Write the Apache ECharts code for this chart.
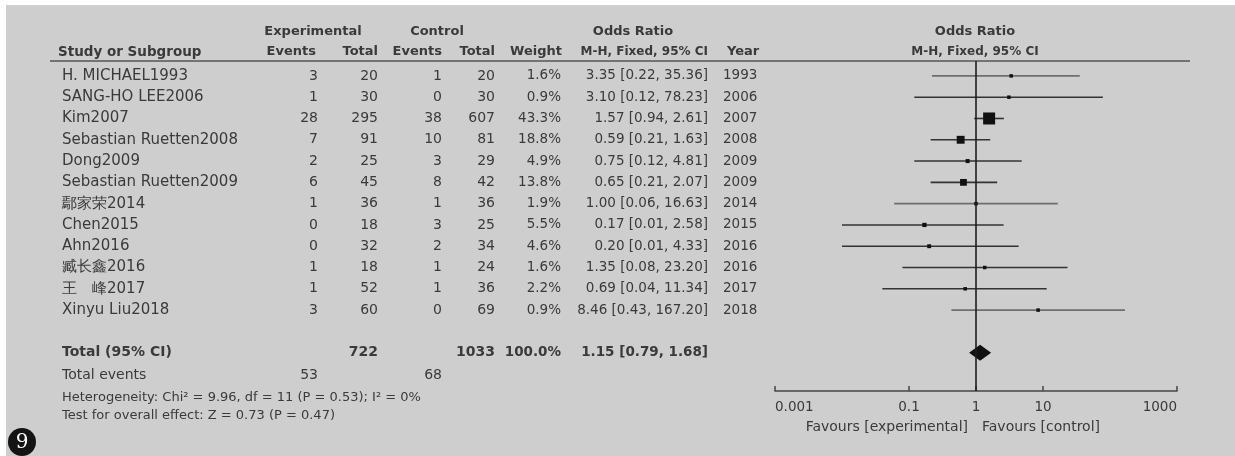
<!DOCTYPE html>
<html><head><meta charset="utf-8">
<script src="https://cdn.jsdelivr.net/npm/echarts@6/dist/echarts.min.js"></script>
<style>html,body{margin:0;padding:0;background:#fff}#c{width:1235px;height:456px}</style>
</head><body><div id="c"></div>
<script>
// ---- data ----
const studies = ['H. MICHAEL1993','SANG-HO LEE2006','Kim2007','Sebastian Ruetten2008','Dong2009','Sebastian Ruetten2009','鄢家荣2014','Chen2015','Ahn2016','臧长鑫2016','王　峰2017','Xinyu Liu2018'];
const expEvents = [3,1,28,7,2,6,1,0,0,1,1,3];
const expTotal = [20,30,295,91,25,45,36,18,32,18,52,60];
const ctrlEvents = [1,0,38,10,3,8,1,3,2,1,1,0];
const ctrlTotal = [20,30,607,81,29,42,36,25,34,24,36,69];
const weights = [1.6,0.9,43.3,18.8,4.9,13.8,1.9,5.5,4.6,1.6,2.2,0.9];
const oddsRatio = [3.35,3.10,1.57,0.59,0.75,0.65,1.00,0.17,0.20,1.35,0.69,8.46];
const ciLower = [0.22,0.12,0.94,0.21,0.12,0.21,0.06,0.01,0.01,0.08,0.04,0.43];
const ciUpper = [35.36,78.23,2.61,1.63,4.81,2.07,16.63,2.58,4.33,23.20,11.34,167.20];
const years = [1993,2006,2007,2008,2009,2009,2014,2015,2016,2016,2017,2018];
const totalExp = 722, totalCtrl = 1033, totalWeight = '100.0%';
const totalOR = 1.15, totalLower = 0.79, totalUpper = 1.68;
const totalExpEvents = 53, totalCtrlEvents = 68;
const heterogeneityText = 'Heterogeneity: Chi² = 9.96, df = 11 (P = 0.53); I² = 0%';
const overallText = 'Test for overall effect: Z = 0.73 (P = 0.47)';
const tickValues = [0.001, 0.1, 1, 10, 1000];
const favourLeft = 'Favours [experimental]', favourRight = 'Favours [control]';

// ---- layout / style ----
const FONT = '"DejaVu Sans"';
const TXT = '#3a3a3a';
const lightRows = [0, 6, 11];
const TOTAL_ROW = 13;
const fmt2 = v => v.toFixed(2);

function T(x, y, text, align, size, bold, extra) {
  return Object.assign({ type: 'text', style: { x, y, text: String(text), textAlign: align, textVerticalAlign: 'middle',
    font: (bold ? 'bold ' : '') + size + 'px ' + FONT, fill: TXT } }, extra || {});
}

const chart = echarts.init(document.getElementById('c'));

const tableData = studies.map((s, i) => [0, i]);
const ciData = studies.map((s, i) => [ciLower[i], ciUpper[i], i, oddsRatio[i], weights[i]]);

chart.setOption({
  backgroundColor: '#cecece',
  animation: false,
  grid: { left: 775, right: 58, top: 61, bottom: 456 - 391 },
  xAxis: {
    type: 'log', logBase: 10, min: 0.001, max: 1000,
    axisLine: { onZero: false, lineStyle: { color: '#454545', width: 1.5 } },
    axisTick: { inside: true, length: 5, customValues: tickValues, lineStyle: { color: '#454545', width: 1.5 } },
    axisLabel: { customValues: tickValues, formatter: v => String(v), color: TXT, fontSize: 13.5, fontFamily: 'DejaVu Sans', margin: 9,
      alignMinLabel: 'left', alignMaxLabel: 'right' },
    splitLine: { show: false }
  },
  yAxis: { type: 'value', inverse: true, min: -0.7, max: 14.8, show: false },
  graphic: [
    { type: 'rect', shape: { x: 0, y: 0, width: 1235, height: 5 }, style: { fill: '#fff' } },
    { type: 'rect', shape: { x: 0, y: 0, width: 6, height: 456 }, style: { fill: '#fff' } },
    { type: 'line', shape: { x1: 50, y1: 61, x2: 1190, y2: 61 }, style: { stroke: '#555', lineWidth: 1.5 } },
    T(313, 32, 'Experimental', 'center', 13, true),
    T(437, 32, 'Control', 'center', 13, true),
    T(633, 32, 'Odds Ratio', 'center', 13, true),
    T(975, 32, 'Odds Ratio', 'center', 13, true),
    T(58, 52, 'Study or Subgroup', 'left', 13.5, true),
    T(316, 52, 'Events', 'right', 13, true),
    T(378, 52, 'Total', 'right', 13, true),
    T(442, 52, 'Events', 'right', 13, true),
    T(495, 52, 'Total', 'right', 13, true),
    T(562, 52, 'Weight', 'right', 13, true),
    T(708, 52, 'M-H, Fixed, 95% CI', 'right', 12, true),
    T(727, 52, 'Year', 'left', 13, true),
    T(975, 52, 'M-H, Fixed, 95% CI', 'center', 12, true),
    T(968, 427, favourLeft, 'right', 14, false),
    T(982, 427, favourRight, 'left', 14, false),
    { type: 'circle', shape: { cx: 22, cy: 442, r: 14 }, style: { fill: '#141414' } },
    { type: 'text', style: { x: 22, y: 443, text: '9', textAlign: 'center', textVerticalAlign: 'middle', font: '20px "DejaVu Serif"', fill: '#fff' } }
  ],
  series: [
    {
      type: 'custom', name: 'table', data: tableData, silent: true,
      renderItem: (params, api) => {
        const i = api.value(1);
        const y = api.coord([1, i])[1];
        return { type: 'group', children: [
          T(62, y, studies[i], 'left', 15, false),
          T(318, y, expEvents[i], 'right', 14, false),
          T(378, y, expTotal[i], 'right', 14, false),
          T(442, y, ctrlEvents[i], 'right', 14, false),
          T(495, y, ctrlTotal[i], 'right', 14, false),
          T(561, y, weights[i].toFixed(1) + '%', 'right', 13.5, false),
          T(708, y, fmt2(oddsRatio[i]) + ' [' + fmt2(ciLower[i]) + ', ' + fmt2(ciUpper[i]) + ']', 'right', 13.5, false),
          T(723, y, years[i], 'left', 13.5, false)
        ] };
      }
    },
    {
      type: 'custom', name: 'summary', data: [[0, TOTAL_ROW]], silent: true,
      renderItem: (params, api) => {
        const yT = api.coord([1, TOTAL_ROW])[1];
        const yE = api.coord([1, TOTAL_ROW + 1.07])[1];
        const yH = api.coord([1, TOTAL_ROW + 2.1])[1];
        const yO = api.coord([1, TOTAL_ROW + 2.95])[1];
        return { type: 'group', children: [
          T(62, yT, 'Total (95% CI)', 'left', 14, true),
          T(378, yT, totalExp, 'right', 14, true),
          T(495, yT, totalCtrl, 'right', 14, true),
          T(561, yT, totalWeight, 'right', 13.5, true),
          T(708, yT, fmt2(totalOR) + ' [' + fmt2(totalLower) + ', ' + fmt2(totalUpper) + ']', 'right', 13.5, true),
          T(62, yE, 'Total events', 'left', 14, false),
          T(318, yE, totalExpEvents, 'right', 14, false),
          T(442, yE, totalCtrlEvents, 'right', 14, false),
          T(62, yH, heterogeneityText, 'left', 13, false),
          T(62, yO, overallText, 'left', 13, false)
        ] };
      }
    },
    {
      type: 'custom', name: 'ci', data: ciData, silent: true, clip: false,
      renderItem: (params, api) => {
        const row = api.value(2);
        const p1 = api.coord([api.value(0), row]);
        const p2 = api.coord([api.value(1), row]);
        const pc = api.coord([api.value(3), row]);
        const s = Math.max(3.5, 12 * Math.sqrt(api.value(4) / 43.3));
        const col = lightRows.indexOf(params.dataIndex) >= 0 ? '#6e6e6e' : '#333';
        return { type: 'group', children: [
          { type: 'line', shape: { x1: p1[0], y1: p1[1], x2: p2[0], y2: p2[1] }, style: { stroke: col, lineWidth: 1.6 } },
          { type: 'rect', shape: { x: pc[0] - s / 2, y: pc[1] - s / 2, width: s, height: s }, style: { fill: '#111' } }
        ] };
      },
      markLine: {
        silent: true, symbol: 'none', label: { show: false },
        lineStyle: { color: '#1e1e1e', width: 1.6, type: 'solid' },
        data: [{ xAxis: 1 }]
      }
    },
    {
      type: 'custom', name: 'total', data: [[totalLower, totalUpper, TOTAL_ROW, totalOR]], silent: true,
      renderItem: (params, api) => {
        const row = api.value(2);
        const l = api.coord([api.value(0), row]);
        const r = api.coord([api.value(1), row]);
        const c = api.coord([api.value(3), row]);
        const h = 8;
        return { type: 'polygon', shape: { points: [[l[0], l[1]], [c[0], c[1] - h], [r[0], r[1]], [c[0], c[1] + h]] }, style: { fill: '#111' } };
      }
    }
  ]
});
</script></body></html>
